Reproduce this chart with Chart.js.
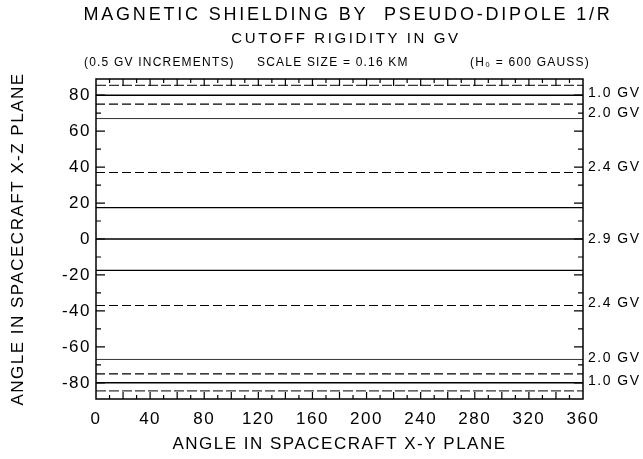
<!DOCTYPE html>
<html>
<head>
<meta charset="utf-8">
<script src="https://cdn.jsdelivr.net/npm/chart.js@4.4.0/dist/chart.umd.min.js"></script>
<style>
  html, body { margin: 0; padding: 0; background: #fff; }
</style>
</head>
<body>
<canvas id="shieldChart" width="643" height="459"></canvas>
<script>
// contour lines (angle in X-Z plane, constant along X-Y angle)
const xRange = [0, 360];
const contourAngles = [80, 75, 67, 37, 17.5, 0, -17.5, -37, -67, -75, -80];
const contourDashed = [false, true, false, true, false, false, false, true, false, true, false];
const contourWidths = [1.4, 1.2, 1, 1.2, 1.3, 1.4, 1.3, 1.2, 1, 1.2, 1.4];
// hatched strips near the poles
const stripAngles = [85.5, -84.5];

const xTicks = [0, 40, 80, 120, 160, 200, 240, 280, 320, 360];
const yTicks = [-80, -60, -40, -20, 0, 20, 40, 60, 80];
const gvLabels = ['1.0 GV', '2.0 GV', '2.4 GV', '2.9 GV', '2.4 GV', '2.0 GV', '1.0 GV'];
const gvLabelAngles = [81, 70, 40, 0, -35.5, -66.5, -79];

const FONT = 'Liberation Sans, Arial, Helvetica, sans-serif';

const datasets = contourAngles.map((a, i) => ({
  data: xRange.map(x => ({ x: x, y: a })),
  borderColor: contourWidths[i] < 1.1 ? '#333' : '#000',
  borderWidth: contourWidths[i],
  borderDash: contourDashed[i] ? [9, 4] : [],
  pointRadius: 0,
  fill: false
}));
stripAngles.forEach(a => {
  datasets.push({
    data: xRange.map(x => ({ x: x, y: a })),
    borderColor: '#000',
    borderWidth: 1,
    borderDash: [10, 3],
    pointRadius: 0,
    fill: false
  });
});

const frameAndText = {
  id: 'frameAndText',
  beforeDraw(chart) {
    // the plotter lettering is spaced wider than the screen font
    chart.ctx.letterSpacing = '1.5px';
  },
  afterDraw(chart) {
    const ctx = chart.ctx;
    const { left, right, top, bottom } = chart.chartArea;
    const xs = chart.scales.x;
    const ys = chart.scales.y;
    ctx.save();
    ctx.strokeStyle = '#000';
    ctx.lineWidth = 1.5;
    ctx.strokeRect(left, top, right - left, bottom - top);

    // inward ticks every 10 degrees
    ctx.lineWidth = 1.2;
    ctx.beginPath();
    for (let v = -80; v <= 80; v += 10) {
      const py = ys.getPixelForValue(v);
      const len = v % 20 === 0 ? 9 : 5;
      ctx.moveTo(left, py); ctx.lineTo(left + len, py);
      ctx.moveTo(right, py); ctx.lineTo(right - len, py);
    }
    for (let v = 10; v < 360; v += 10) {
      const px = xs.getPixelForValue(v);
      const len = v % 20 === 0 ? 7 : 4;
      ctx.moveTo(px, top); ctx.lineTo(px, top + len);
      ctx.moveTo(px, bottom); ctx.lineTo(px, bottom - len);
    }
    ctx.stroke();

    // titles
    ctx.fillStyle = '#000';
    ctx.textBaseline = 'middle';
    ctx.textAlign = 'center';
    ctx.font = '18px ' + FONT;
    ctx.letterSpacing = '2.8px';
    ctx.fillText('MAGNETIC SHIELDING BY  PSEUDO-DIPOLE 1/R', 348, 15);
    ctx.font = '15px ' + FONT;
    ctx.letterSpacing = '2.6px';
    ctx.fillText('CUTOFF RIGIDITY IN GV', 346, 39);
    ctx.font = '12px ' + FONT;
    ctx.letterSpacing = '1.2px';
    ctx.textAlign = 'left';
    ctx.fillText('(0.5 GV INCREMENTS)', 84, 63);
    ctx.fillText('SCALE SIZE = 0.16 KM', 257, 63);
    ctx.fillText('(H\u2080 = 600 GAUSS)', 470, 63);
    ctx.restore();
  }
};

new Chart(document.getElementById('shieldChart'), {
  type: 'line',
  data: { datasets: datasets },
  plugins: [frameAndText],
  options: {
    responsive: false,
    animation: false,
    devicePixelRatio: 1,
    layout: { padding: { top: 79, left: 0, right: 0, bottom: 0 } },
    plugins: { legend: { display: false }, tooltip: { enabled: false }, title: { display: false } },
    scales: {
      x: {
        type: 'linear',
        position: 'bottom',
        min: 0,
        max: 360,
        grid: { display: false, drawTicks: false },
        border: { display: false },
        afterBuildTicks: s => { s.ticks = xTicks.map(v => ({ value: v })); },
        afterFit: s => { s.height = 60; },
        ticks: { color: '#000', font: { family: FONT, size: 17 }, padding: 10, maxRotation: 0, autoSkip: false },
        title: {
          display: true,
          text: 'ANGLE IN SPACECRAFT X-Y PLANE',
          color: '#000',
          font: { family: FONT, size: 17 },
          padding: { top: 0, bottom: 4 }
        }
      },
      y: {
        type: 'linear',
        position: 'left',
        min: -89,
        max: 89,
        grid: { display: false, drawTicks: false },
        border: { display: false },
        afterBuildTicks: s => { s.ticks = yTicks.map(v => ({ value: v })); },
        afterFit: s => { s.width = 96; },
        ticks: { color: '#000', font: { family: FONT, size: 17 }, padding: 5, autoSkip: false },
        title: {
          display: true,
          text: 'ANGLE IN SPACECRAFT X-Z PLANE',
          color: '#000',
          font: { family: FONT, size: 17 },
          padding: { top: 8, bottom: 0 }
        }
      },
      gv: {
        type: 'linear',
        position: 'right',
        min: -89,
        max: 89,
        grid: { display: false, drawTicks: false },
        border: { display: false },
        afterBuildTicks: s => { s.ticks = gvLabelAngles.map(v => ({ value: v })); },
        afterFit: s => { s.width = 60; },
        ticks: {
          color: '#000',
          font: { family: FONT, size: 14 },
          padding: 5,
          autoSkip: false,
          callback: (v, i) => gvLabels[i]
        }
      }
    }
  }
});
</script>
</body>
</html>
